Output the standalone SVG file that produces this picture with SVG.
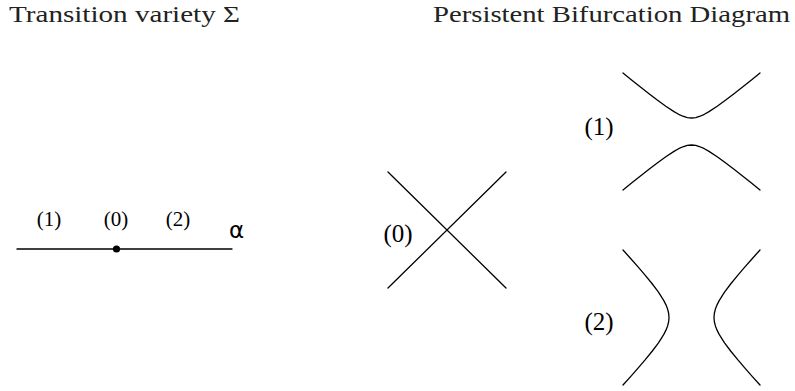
<svg xmlns="http://www.w3.org/2000/svg" width="795" height="391" viewBox="0 0 795 391">
<style>
.title{font-family:"Liberation Serif","DejaVu Serif",serif;font-size:23px;fill:#222}
.lbl{font-family:"Liberation Serif","Times New Roman",serif;fill:#000;text-anchor:middle}
.ln{fill:none;stroke:#000;stroke-width:1.3;stroke-linejoin:round;stroke-linecap:round}
</style>
<rect width="795" height="391" fill="#fff"/>
<g id="title-left"><text class="title" x="9" y="22" textLength="231" lengthAdjust="spacingAndGlyphs">Transition variety Σ</text></g>
<g id="title-right"><text class="title" x="433" y="22" textLength="357" lengthAdjust="spacingAndGlyphs">Persistent Bifurcation Diagram</text></g>
<g id="transition-variety">
<line class="ln" x1="17" y1="249" x2="232" y2="249"/>
<circle cx="116.5" cy="249" r="3.6" fill="#000"/>
<text class="lbl" x="49" y="226" font-size="21">(1)</text>
<text class="lbl" x="116" y="226" font-size="21">(0)</text>
<text class="lbl" x="178" y="226" font-size="21">(2)</text>
<text x="236.5" y="238" font-size="23" text-anchor="middle" font-family="'DejaVu Sans','Liberation Sans',sans-serif">α</text>
</g>
<g id="diagram-0">
<line class="ln" x1="388" y1="172" x2="506" y2="288"/>
<line class="ln" x1="388" y1="288" x2="506" y2="172"/>
<text class="lbl" x="398" y="242" font-size="25">(0)</text>
</g>
<g id="diagram-1">
<polyline class="ln" points="623,73 631.56,79.9 640.13,86.73 648.69,93.45 657.25,100 665.81,106.24 674.38,111.88 678.66,114.29 682.94,116.24 687.22,117.54 691.5,118 695.78,117.54 700.06,116.24 704.34,114.29 708.63,111.88 717.19,106.24 725.75,100 734.31,93.45 742.88,86.73 751.44,79.9 760,73"/>
<polyline class="ln" points="623,190 631.56,183.1 640.13,176.27 648.69,169.55 657.25,163 665.81,156.76 674.38,151.12 678.66,148.71 682.94,146.76 687.22,145.46 691.5,145 695.78,145.46 700.06,146.76 704.34,148.71 708.63,151.12 717.19,156.76 725.75,163 734.31,169.55 742.88,176.27 751.44,183.1 760,190"/>
<text class="lbl" x="599" y="135" font-size="25">(1)</text>
</g>
<g id="diagram-2">
<polyline class="ln" points="623,250 630.61,258.44 638.06,266.88 645.29,275.31 652.16,283.75 658.47,292.19 663.83,300.63 665.96,304.84 667.6,309.06 668.64,313.28 669,317.5 668.64,321.72 667.6,325.94 665.96,330.16 663.83,334.38 658.47,342.81 652.16,351.25 645.29,359.69 638.06,368.13 630.61,376.56 623,385"/>
<polyline class="ln" points="760,250 752.39,258.44 744.94,266.88 737.71,275.31 730.84,283.75 724.53,292.19 719.17,300.63 717.04,304.84 715.4,309.06 714.36,313.28 714,317.5 714.36,321.72 715.4,325.94 717.04,330.16 719.17,334.38 724.53,342.81 730.84,351.25 737.71,359.69 744.94,368.13 752.39,376.56 760,385"/>
<text class="lbl" x="599" y="330" font-size="25">(2)</text>
</g>
</svg>
